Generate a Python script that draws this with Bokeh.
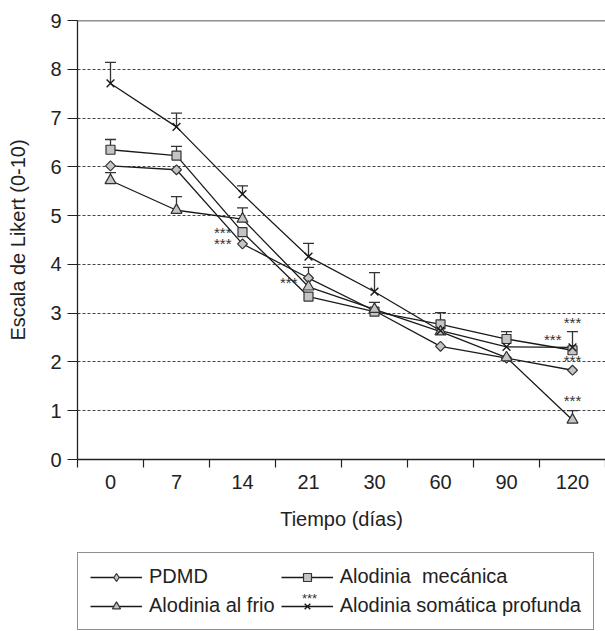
import numpy as np
from bokeh.plotting import figure
from bokeh.layouts import column
from bokeh.models import (Range1d, FixedTicker, Legend, LegendItem, Whisker, TeeHead,
                          ColumnDataSource, Span, Label)
from bokeh.embed import file_html
from bokeh.resources import INLINE

# ---------------- data ----------------
dias = ["0", "7", "14", "21", "30", "60", "90", "120"]

pdmd     = [6.02, 5.94, 4.42, 3.72, 3.05, 2.32, 2.08, 1.83]
mecanica = [6.35, 6.23, 4.66, 3.34, 3.03, 2.77, 2.47, 2.24]
frio     = [5.72, 5.11, 4.93, 3.54, 3.08, 2.62, 2.09, 0.81]
profunda = [7.71, 6.82, 5.44, 4.16, 3.44, 2.64, 2.31, 2.30]

# upper ends of the visible error bars (None = no bar visible)
pdmd_sup     = [None, None, None, 3.94, None, None, None, None]
mecanica_sup = [6.56, 6.42, None, None, None, 3.01, 2.62, None]
frio_sup     = [5.88, 5.39, 5.16, None, 3.22, None, None, 1.00]
profunda_sup = [8.14, 7.10, 5.61, 4.43, 3.83, None, None, 2.62]

# significance marks "***": (day index, y value)
stars_left_idx = [2, 2, 3, 7]
stars_left_y   = [4.66, 4.42, 3.62, 2.47]
stars_top_idx  = [7, 7, 7]
stars_top_y    = [2.80, 2.02, 1.20]

y_min, y_max = 0, 9
y_ticks = list(range(0, 10))

FONT = "Liberation Sans"

# ---------------- main figure ----------------
n = len(dias)
xs = np.arange(n) + 0.5

p = figure(width=605, height=549, output_backend="svg", toolbar_location=None,
           x_range=Range1d(0, n), y_range=Range1d(y_min, y_max),
           min_border_left=77, min_border_right=0, min_border_top=20,
           min_border_bottom=90)
p.outline_line_color = None
p.background_fill_color = "white"
p.border_fill_color = "white"

# axes
p.xaxis.ticker = FixedTicker(ticks=list(xs), minor_ticks=list(range(0, n + 1)))
p.xaxis.major_label_overrides = {float(x): d for x, d in zip(xs, dias)}
p.xaxis.major_tick_out = 0
p.xaxis.major_tick_in = 0
p.xaxis.minor_tick_out = 8
p.xaxis.minor_tick_in = 0
p.xaxis.minor_tick_line_color = "#222222"
p.xaxis.minor_tick_line_width = 1.2
p.xaxis.major_label_standoff = 7
p.xaxis.axis_label = "Tiempo (días)"
p.xaxis.axis_label_standoff = 16

p.yaxis.ticker = FixedTicker(ticks=y_ticks)
p.yaxis.major_tick_out = 10
p.yaxis.major_tick_in = 0
p.yaxis.minor_tick_line_color = None
p.yaxis.major_label_standoff = 6
p.yaxis.axis_label = "Escala de Likert (0-10)"
p.yaxis.axis_label_standoff = 18

for ax in (p.xaxis[0], p.yaxis[0]):
    ax.axis_line_color = "#222222"
    ax.axis_line_width = 1.3
    ax.major_tick_line_color = "#222222"
    ax.major_tick_line_width = 1.2
    ax.major_label_text_font = FONT
    ax.major_label_text_font_size = "20px"
    ax.major_label_text_color = "#222222"
    ax.axis_label_text_font = FONT
    ax.axis_label_text_font_size = "20px"
    ax.axis_label_text_font_style = "normal"
    ax.axis_label_text_color = "#222222"

# grid
p.xgrid.visible = False
p.ygrid.ticker = FixedTicker(ticks=y_ticks[1:-1])
p.ygrid.grid_line_color = "#444444"
p.ygrid.grid_line_dash = "3 2"
p.ygrid.grid_line_width = 1
p.add_layout(Span(location=y_max, dimension="width", line_color="#222222", line_width=1.3))

# series: (name, values, error tops, marker in plot, marker in legend)
series = [
    ("PDMD", pdmd, pdmd_sup,
     dict(marker="square", size=7, angle=np.pi / 4), dict(marker="diamond", size=11)),
    ("Alodinia  mecánica", mecanica, mecanica_sup,
     dict(marker="square", size=9), dict(marker="square", size=8)),
    ("Alodinia al frio", frio, frio_sup,
     dict(marker="triangle", size=11), dict(marker="triangle", size=10)),
    ("Alodinia somática profunda", profunda, profunda_sup,
     dict(marker="x", size=11), dict(marker="x", size=9)),
]

for name, vals, sup, mk, lmk in series:
    p.line(xs, vals, line_color="#1a1a1a", line_width=1.3)

for name, vals, sup, mk, lmk in series:
    bx = [x for x, s in zip(xs, sup) if s is not None]
    lo = [v for v, s in zip(vals, sup) if s is not None]
    up = [s for s in sup if s is not None]
    if bx:
        src = ColumnDataSource(dict(base=bx, lower=lo, upper=up))
        w = Whisker(source=src, base="base", lower="lower", upper="upper",
                    dimension="height", line_color="#333333", line_width=1.3,
                    lower_head=None,
                    upper_head=TeeHead(size=11, line_color="#333333", line_width=1.3))
        p.add_layout(w)


def add_markers(fig, x, y, mk):
    if mk["marker"] == "x":
        return fig.scatter(x, y, marker="x", size=mk["size"],
                           line_color="#1a1a1a", line_width=1.4)
    return fig.scatter(x, y, marker=mk["marker"], size=mk["size"],
                       angle=mk.get("angle", 0.0),
                       fill_color="#c4c4c4", line_color="#333333", line_width=1.2)


for name, vals, sup, mk, lmk in series:
    add_markers(p, xs, vals, mk)

# stars
p.text(x=[xs[i] for i in stars_left_idx], y=stars_left_y, text=["***"] * len(stars_left_y),
       text_align="right", text_baseline="middle", x_offset=-11,
       text_font={"value": FONT}, text_font_size="15px", text_color="#333333")
p.text(x=[xs[i] for i in stars_top_idx], y=stars_top_y, text=["***"] * len(stars_top_y),
       text_align="center", text_baseline="middle",
       text_font={"value": FONT}, text_font_size="15px", text_color="#333333")

# ---------------- legend figure (below) ----------------
# the series are drawn again here only to feed the legend; the view range
# is placed away from the data so nothing but the legend is visible
lg = figure(width=605, height=82, output_backend="svg", toolbar_location=None,
            x_range=Range1d(100, 101), y_range=Range1d(100, 101),
            x_axis_type=None, y_axis_type=None,
            min_border_left=0, min_border_right=0, min_border_top=0, min_border_bottom=0)
lg.outline_line_color = None
lg.background_fill_color = "white"
lg.border_fill_color = "white"
lg.xgrid.visible = False
lg.ygrid.visible = False

items = []
for name, vals, sup, mk, lmk in series:
    lr = lg.line(xs, vals, line_color="#1a1a1a", line_width=1.3)
    sr = add_markers(lg, xs, vals, lmk)
    items.append(LegendItem(label=name, renderers=[lr, sr]))

legend = Legend(items=items, orientation="horizontal", ncols=2,
                location=(0, 1), glyph_width=52, glyph_height=20,
                label_standoff=7, label_width=125, spacing=6, padding=12, margin=0,
                label_text_font=FONT, label_text_font_size="20px",
                label_text_color="#222222",
                border_line_color="#222222", border_line_width=1.3,
                background_fill_color=None)
lg.add_layout(legend, "center")

lg.add_layout(Label(x=232, y=33, x_units="screen", y_units="screen", text="***",
                    text_align="center", text_baseline="middle", level="overlay",
                    text_font=FONT, text_font_size="13px", text_color="#333333"))

layout = column(p, lg, spacing=0)
open("out.html", "w").write(file_html(layout, INLINE))
